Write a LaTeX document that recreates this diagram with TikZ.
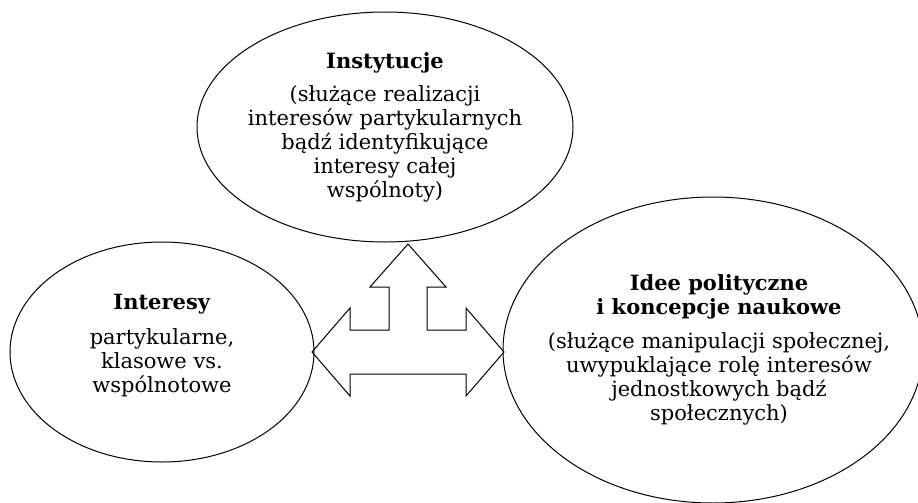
\documentclass[tikz,border=0pt]{standalone}
\usepackage{fontspec}
\setmainfont{DejaVu Serif}
\usetikzlibrary{shapes.geometric}

\def\arrShaft{22}
\def\arrHead{44}
\def\arrStem{19}
\def\arrUpHead{38}
\def\arrReach{96}
\def\arrNeck{58}
\def\arrUp{108}
\def\arrUpNeck{65}

\tikzset{
  blob/.style = {ellipse, draw, line width = 1pt, inner sep = 0pt},
  blobtext/.style = {align = center, font = \fontsize{21}{24}\selectfont, inner sep = 0pt},
}

\begin{document}
\begin{tikzpicture}[x = 1pt, y = -1pt]
            \clip (0,0) rectangle (918,503);
            %% ellipses
            \node [blob, minimum width = 376, minimum height = 230]
            (inst) at (385,127) {};
            \node [blob, minimum width = 304, minimum height = 220]
            (interests) at (162,352) {};
            \node [blob, minimum width = 420, minimum height = 306]
            (ideas) at (713,350) {};
            %% texts
            \node [blobtext] (instText) at (inst)
            {\textbf{Instytucje}\\[9pt]
              (służące realizacji\\
              interesów partykularnych\\
              bądź identyfikujące\\
              interesy całej\\
              wspólnoty)};
            \node [blobtext] (interestsText) at ([yshift = 6pt]interests)
            {\textbf{Interesy}\\[11pt]
              partykularne,\\
              klasowe vs.\\
              wspólnotowe};
            \node [blobtext] (ideasText) at ([xshift = 6pt]ideas)
            {\textbf{Idee polityczne}\\
              \textbf{i koncepcje naukowe}\\[10pt]
              (służące manipulacji społecznej,\\
              uwypuklające rolę interesów\\
              jednostkowych bądź\\
              społecznych)};
            %% three-way arrow
            \coordinate (hub) at (408,352);
            \draw [line width = 1pt, line join = miter]
            (hub) ++(0,-\arrUp) coordinate (upTip)
            -- ++(\arrUpHead,{\arrUp-\arrUpNeck})
            -- ++({-(\arrUpHead-\arrStem)},0)
            -- ++(0,{\arrUpNeck-\arrShaft})
            -- ++({\arrNeck-\arrStem},0)
            -- ++(0,{-(\arrHead-\arrShaft)})
            -- ++({\arrReach-\arrNeck},\arrHead) coordinate (rightTip)
            -- ++({-(\arrReach-\arrNeck)},\arrHead)
            -- ++(0,{-(\arrHead-\arrShaft)})
            -- ++({-2*\arrNeck},0)
            -- ++(0,{\arrHead-\arrShaft})
            -- ++({-(\arrReach-\arrNeck)},-\arrHead) coordinate (leftTip)
            -- ++({\arrReach-\arrNeck},-\arrHead)
            -- ++(0,{\arrHead-\arrShaft})
            -- ++({\arrNeck-\arrStem},0)
            -- ++(0,{-(\arrUpNeck-\arrShaft)})
            -- ++({-(\arrUpHead-\arrStem)},0)
            -- cycle
            ;
\end{tikzpicture}
\end{document}
